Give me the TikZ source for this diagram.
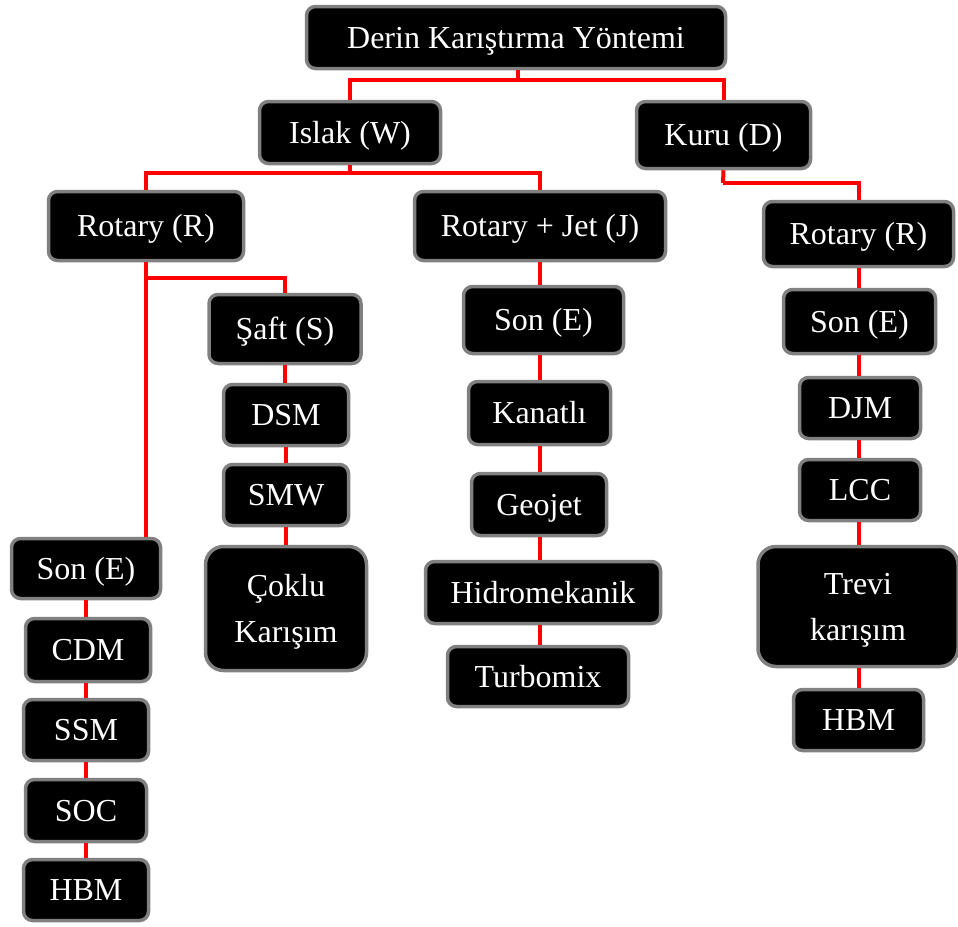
\documentclass[tikz,border=0pt]{standalone}
\usepackage{fontspec}
\setmainfont{Liberation Serif}
\begin{document}
\begin{tikzpicture}[x=1pt,y=1pt,
  bx/.style={rectangle, rounded corners=9pt, fill=black, draw=gray, line width=3.5pt,
    text=white, font=\fontsize{32}{46}\selectfont, inner sep=0pt, align=center,
    text height=26pt, text depth=5pt},
  big/.style={bx, rounded corners=18pt, text height=69pt, text depth=2pt},
  conn/.style={draw=red, line width=4pt}]
\useasboundingbox (0,0) rectangle (958,-926);
% top level
\node[bx, minimum width=419pt, minimum height=62pt] (derin) at (516,-37.5) {Derin Karıştırma Yöntemi};
\node[bx, minimum width=181pt, minimum height=62pt] (islak) at (350,-132.5) {Islak (W)};
\node[bx, minimum width=174pt, minimum height=67pt] (kuru) at (723.5,-135) {Kuru (D)};
% level 2
\node[bx, minimum width=195pt, minimum height=69pt] (rotL) at (146,-226) {Rotary (R)};
\node[bx, minimum width=251pt, minimum height=69pt] (rj) at (540,-226) {Rotary + Jet (J)};
\node[bx, minimum width=190pt, minimum height=65pt] (rotR) at (858.5,-234) {Rotary (R)};
% Saft column
\node[bx, minimum width=152pt, minimum height=69pt] (saft) at (285,-329) {Şaft (S)};
\node[bx, minimum width=125pt, minimum height=61pt] (dsm) at (286,-415) {DSM};
\node[bx, minimum width=125pt, minimum height=61pt] (smw) at (286,-495) {SMW};
\node[big, minimum width=161pt, minimum height=124pt] (coklu) at (286,-608.5) {Çoklu\\Karışım};
% left column
\node[bx, minimum width=149pt, minimum height=60pt] (sonL) at (86,-568.5) {Son (E)};
\node[bx, minimum width=125pt, minimum height=63pt] (cdm) at (88,-650) {CDM};
\node[bx, minimum width=125pt, minimum height=61pt] (ssm) at (86,-730) {SSM};
\node[bx, minimum width=121pt, minimum height=62pt] (soc) at (86,-810.5) {SOC};
\node[bx, minimum width=125pt, minimum height=61pt] (hbmL) at (86,-890) {HBM};
% middle column
\node[bx, minimum width=160pt, minimum height=67pt] (sonM) at (543.5,-320) {Son (E)};
\node[bx, minimum width=142pt, minimum height=63pt] (kanat) at (539.5,-413) {Kanatlı};
\node[bx, minimum width=135pt, minimum height=62pt] (geo) at (539,-504.5) {Geojet};
\node[bx, minimum width=235pt, minimum height=62pt] (hidro) at (543,-592.5) {Hidromekanik};
\node[bx, minimum width=181pt, minimum height=60pt] (turbo) at (538,-676.5) {Turbomix};
% right column
\node[bx, minimum width=152pt, minimum height=64pt] (sonR) at (859.5,-321.5) {Son (E)};
\node[bx, minimum width=121pt, minimum height=61pt] (djm) at (860,-408) {DJM};
\node[bx, minimum width=121pt, minimum height=61pt] (lcc) at (860,-490) {LCC};
\node[big, minimum width=200pt, minimum height=120pt] (trevi) at (858,-606.5) {Trevi\\karışım};
\node[bx, minimum width=130pt, minimum height=61pt] (hbmR) at (858.5,-720) {HBM};
% connectors
\coordinate (t1) at (518,-80);
\draw[conn] (t1 |- derin.south) -- (t1);
\draw[conn] (t1) -| (islak.north);
\draw[conn] (t1) -| (kuru.north);
\coordinate (t2) at (350,-173);
\draw[conn] (islak.south) -- (t2);
\draw[conn] (t2) -| (rotL.north);
\draw[conn] (t2) -| (rj.north);
\coordinate (t3) at (723,-183);
\draw[conn] (kuru.south) -- (t3);
\draw[conn] (t3) -| (rotR.north);
\coordinate (t4) at (146,-278);
\draw[conn] (rotL.south) -- (t4);
\draw[conn] (t4) -| (saft.north);
\draw[conn] (t4) -- (t4 |- sonL.north);
\draw[conn] (saft.south) -- (saft.south |- dsm.north);
\draw[conn] (dsm.south) -- (dsm.south |- smw.north);
\draw[conn] (smw.south) -- (smw.south |- coklu.north);
\draw[conn] (sonL.south) -- (sonL.south |- cdm.north);
\draw[conn] (sonL.south |- cdm.south) -- (sonL.south |- ssm.north);
\draw[conn] (ssm.south) -- (ssm.south |- soc.north);
\draw[conn] (soc.south) -- (soc.south |- hbmL.north);
\coordinate (mx) at (540,0);
\draw[conn] (mx |- rj.south) -- (mx |- sonM.north);
\draw[conn] (mx |- sonM.south) -- (mx |- kanat.north);
\draw[conn] (mx |- kanat.south) -- (mx |- geo.north);
\draw[conn] (mx |- geo.south) -- (mx |- hidro.north);
\draw[conn] (mx |- hidro.south) -- (mx |- turbo.north);
\coordinate (rx) at (859,0);
\draw[conn] (rx |- rotR.south) -- (rx |- sonR.north);
\draw[conn] (rx |- sonR.south) -- (rx |- djm.north);
\draw[conn] (rx |- djm.south) -- (rx |- lcc.north);
\draw[conn] (rx |- lcc.south) -- (rx |- trevi.north);
\draw[conn] (rx |- trevi.south) -- (rx |- hbmR.north);
\end{tikzpicture}
\end{document}
